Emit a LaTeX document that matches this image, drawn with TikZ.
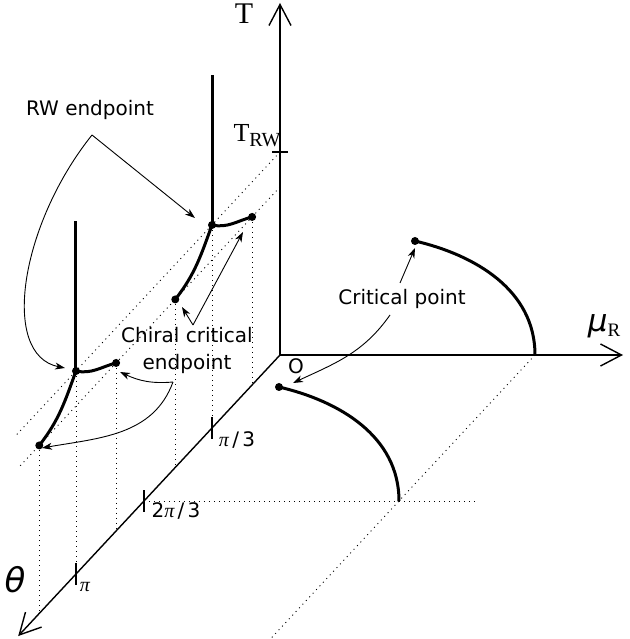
\documentclass[tikz,border=0pt]{standalone}
\usepackage{fontspec}
\usepackage{tikz}
\usetikzlibrary{calc, arrows.meta}
\newfontfamily\dejavu{DejaVu Sans}
\newfontfamily\libserif{Liberation Serif}

\tikzset{
    axis/.style={line width=1.4pt},
    axisarrow/.style={axis, -{Straight Barb[length=21pt, width=22pt]}},
    phase/.style={line width=3pt},
    proj/.style={line width=0.9pt, dash pattern=on 1pt off 4pt},
    note/.style={line width=0.9pt, -{Stealth[length=10pt, width=7pt, inset=3pt]}},
    lbl/.style={font=\dejavu\fontsize{20}{27}\selectfont, inner sep=0pt},
}

\begin{document}
\begin{tikzpicture}[x={(1pt,0pt)}, y={(0pt,1pt)}, z={(-68pt,-73pt)}]
    \useasboundingbox (-280,-284) rectangle (349,355);

    % --- 1. 定義原點與高度 T_RW, T_c ---
    \coordinate (O) at (0,0,0);
    \def\Trw{203}
    \def\Tc{168}
    \coordinate (Tend) at (0,352,0);
    \coordinate (Muend) at (343,0,0);
    \coordinate (Thend) at (0,0,3.85);

    % --- 2. 坐標軸與刻度 ---
    \draw[axisarrow] (O) -- (Tend);
    \draw[axisarrow] (O) -- (Muend);
    \draw[axisarrow] (O) -- (Thend);
    \draw[axis] (-8,\Trw,0) -- (8,\Trw,0);
    \foreach \k in {1,2,3}
        \draw[axis] ($(0,0,\k)+(0,11)$) -- ($(0,0,\k)+(0,-11)$);

    % --- 3. 定義 RW 端點與手征臨界端點 (theta = pi/3, pi) ---
    \coordinate (E1) at (0,\Trw,1);
    \coordinate (R1) at (0,\Tc,0.41);
    \coordinate (L1) at (0,\Tc,1.54);
    \coordinate (E3) at (0,\Trw,3);
    \coordinate (R3) at (0,\Tc,2.41);
    \coordinate (L3) at (0,\Tc,3.54);

    % --- 4. 虛線投影 ---
    \draw[proj] (0,\Trw,0) -- (0,\Trw,3.9);
    \draw[proj] (0,\Tc,0) -- (0,\Tc,3.85);
    \foreach \p/\t in {E1/1, R1/0.41, L1/1.54, E3/3, R3/2.41, L3/3.54}
        \draw[proj] (\p) -- (0,0,\t);
    \draw[proj] (0,0,2) -- (331,0,2);
    \draw[proj] (255,0,0) -- (255,0,3.9);

    % --- 5. 相變線 ---
    \draw[phase] (E1) -- (0,353,1);
    \draw[phase] (E3) -- (0,353,3);
    \draw[phase] (E1) to[out=-12, in=195] (R1);
    \draw[phase] (E1) to[out=250, in=52] (L1);
    \draw[phase] (E3) to[out=-12, in=195] (R3);
    \draw[phase] (E3) to[out=250, in=52] (L3);

    % --- 6. mu_R 平面上的臨界線 (theta = 0, 2pi/3) ---
    \coordinate (C0) at (135,114,0);
    \coordinate (C0end) at (255,0,0);
    \coordinate (C2) at (135,114,2);
    \coordinate (C2end) at (255,0,2);
    \draw[phase] (C0) .. controls ($(C0)+(60,-14)$) and ($(C0end)+(0,65)$) .. (C0end);
    \draw[phase] (C2) .. controls ($(C2)+(60,-14)$) and ($(C2end)+(0,65)$) .. (C2end);

    \foreach \p in {E1,R1,L1,E3,R3,L3,C0,C2}
        \fill (\p) circle (4pt);

    % --- 7. 標籤 ---
    \node[font=\libserif\fontsize{30}{30}\selectfont, inner sep=0pt] (Tlab) at (-36,341) {T};
    \node[inner sep=0pt] (Trwlab) at (-23,219)
        {\libserif\fontsize{26}{26}\selectfont T\raisebox{-5pt}{\fontsize{20}{20}\selectfont RW}};
    \node[inner sep=0pt] (Mulab) at (324,29)
        {{\dejavu\itshape\fontsize{31}{31}\selectfont μ}\raisebox{-5pt}{\libserif\fontsize{19}{19}\selectfont R}};
    \node[font=\dejavu\itshape\fontsize{34}{34}\selectfont, inner sep=0pt] (Thlab) at (-265,-225) {θ};
    \node[lbl] (pi1) at (-43,-85) {{\libserif\itshape π}\,/\,3};
    \node[lbl] (pi2) at (-104,-156) {2{\libserif\itshape π}\,/\,3};
    \node[lbl] (pi3) at (-195,-232) {{\libserif\itshape π}};
    \node[lbl] (Olab) at (16,-11) {O};

    % --- 8. 說明文字與箭頭 ---
    \node[lbl] (rwlab) at (-190,245) {RW endpoint};
    \coordinate (rwv) at (-188,220);
    \coordinate (rwtip1) at (-85,137);
    \coordinate (rwtip3) at (-215,-13);
    \draw[note] (rwv) -- (rwtip1);
    \draw[note] (rwv) .. controls (-260,130) and (-280,0) .. (rwtip3);

    \node[lbl, align=center] (chlab) at (-93,5) {Chiral critical\\endpoint};
    \coordinate (chv1) at (-87,30);
    \coordinate (chtipL1) at (-98,48);
    \coordinate (chtipR1) at (-37,123);
    \draw[note] (chv1) -- (chtipL1);
    \draw[note] (chv1) -- (chtipR1);
    \coordinate (chv3) at (-107,-27);
    \coordinate (chtipR3) at (-160,-17);
    \coordinate (chtipL3) at (-238,-93);
    \draw[note] (chv3) to[out=185, in=-25] (chtipR3);
    \draw[note] (chv3) to[out=250, in=10] (chtipL3);

    \node[lbl] (cplab) at (122,56) {Critical point};
    \coordinate (cpv0) at (120,72);
    \coordinate (cptip0) at (135,107);
    \coordinate (cpv2) at (110,40);
    \coordinate (cptip2) at (13,-28);
    \draw[note] (cpv0) -- (cptip0);
    \draw[note] (cpv2) to[out=235, in=25] (cptip2);
\end{tikzpicture}
\end{document}
